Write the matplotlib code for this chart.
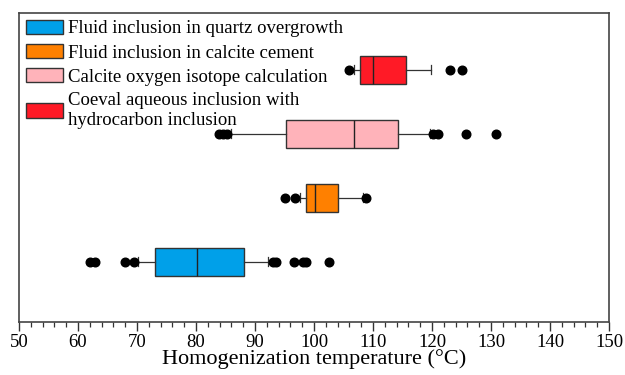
import matplotlib.pyplot as plt
from matplotlib.patches import Patch

plt.rcParams['font.family'] = ['Liberation Serif', 'DejaVu Serif']

# data (temperatures in degC)
labels = ['Fluid inclusion in quartz overgrowth',
          'Fluid inclusion in calcite cement',
          'Calcite oxygen isotope calculation',
          'Coeval aqueous inclusion with\nhydrocarbon inclusion']
colors = ['#00A0E9', '#FF8000', '#FFB3BA', '#FF1A26']
positions = [1, 2, 3, 4]

whislo = [70.1, 97.6, 85.9, 106.8]
q1 = [73.0, 98.6, 95.2, 107.8]
med = [80.1, 100.1, 106.8, 110.0]
q3 = [88.1, 104.1, 114.2, 115.6]
whishi = [92.2, 108.3, 119.6, 119.8]
fliers = [
    [62.0, 62.8, 67.9, 69.5, 93.1, 93.5, 96.6, 98.2, 98.7, 102.6],
    [95.1, 96.8, 108.8],
    [83.9, 84.6, 85.3, 120.1, 121.0, 125.7, 130.9],
    [106.0, 123.0, 125.1],
]

stats = []
for i in range(4):
    stats.append(dict(whislo=whislo[i], q1=q1[i], med=med[i], q3=q3[i],
                      whishi=whishi[i], fliers=fliers[i]))

fig = plt.figure(figsize=(6.25, 3.75), dpi=100)
ax = fig.add_axes([0.0304, 0.1413, 0.944, 0.824])

bp = ax.bxp(stats, positions=positions, vert=False, widths=0.43,
            patch_artist=True, showfliers=True,
            boxprops=dict(edgecolor='#333333', linewidth=1.0),
            medianprops=dict(color='#222222', linewidth=1.0),
            whiskerprops=dict(color='#333333', linewidth=0.9),
            capprops=dict(color='#333333', linewidth=0.9),
            capwidths=0.14,
            flierprops=dict(marker='o', markerfacecolor='black',
                            markeredgecolor='black', markersize=6.2))
for patch, c in zip(bp['boxes'], colors):
    patch.set_facecolor(c)

ax.set_xlim(50, 150)
ax.set_ylim(0.06, 4.89)
ax.set_yticks([])
ax.set_xticks(range(50, 151, 10))
ax.set_xticks(range(50, 151, 2), minor=True)
ax.tick_params(axis='x', which='major', length=6.5, width=1, labelsize=13.5,
               pad=2, color='#333333')
ax.tick_params(axis='x', which='minor', length=3.5, width=0.9,
               color='#333333')
for s in ax.spines.values():
    s.set_color('#444444')
    s.set_linewidth(1.2)

ax.set_xlabel('Homogenization temperature (\u00b0C)', fontsize=16,
              labelpad=-1)

handles = [Patch(facecolor=c, edgecolor='#333333', linewidth=1) for c in colors]
ax.legend(handles, labels, loc='upper left', frameon=False, fontsize=13.5,
          handlelength=2.0, handleheight=0.8, handletextpad=0.25,
          labelspacing=0.35, borderaxespad=0.2, borderpad=0.15)

fig.savefig('out.png', dpi=100)
